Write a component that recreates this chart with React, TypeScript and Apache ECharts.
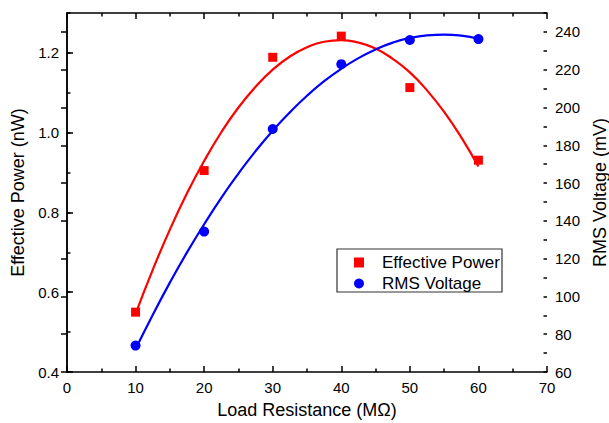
import React, { useEffect, useRef } from "react";
import * as echarts from "echarts";

const resistance = [10, 20, 30, 40, 50, 60];
const power = [0.55, 0.905, 1.189, 1.242, 1.113, 0.931];
const voltage = [74, 134.3, 188.6, 222.9, 235.7, 236.2];

const fitX = [10, 12.5, 15, 17.5, 20, 22.5, 25, 27.5, 30, 32.5, 35, 37.5, 40, 42.5, 45, 47.5, 50, 52.5, 55, 57.5, 60];
const powerFit = [0.546, 0.656, 0.757, 0.848, 0.929, 1.001, 1.063, 1.115, 1.158, 1.191, 1.214, 1.228, 1.232, 1.226, 1.211, 1.185, 1.151, 1.106, 1.052, 0.988, 0.915];
const voltageFit = [72.2, 90.2, 107.3, 123.3, 138.2, 152.2, 165.0, 176.9, 187.7, 197.4, 206.2, 213.9, 220.5, 226.1, 230.7, 234.3, 236.8, 238.2, 238.6, 238.0, 236.4];

const FONT = "Liberation Sans, Arial, sans-serif";

export default function App() {
  const ref = useRef<HTMLDivElement>(null);
  useEffect(() => {
    if (!ref.current) return;
    const chart = echarts.init(ref.current, undefined, { renderer: "svg" });
    const axisLine = { show: true, lineStyle: { color: "#000", width: 1.5 } };
    const label = { color: "#000", fontSize: 15, fontFamily: FONT };
    const nameStyle = { color: "#000", fontSize: 18, fontFamily: FONT };
    const majorTick = { show: true, inside: true, length: 6, lineStyle: { color: "#000", width: 1.5 } };
    const minorTickAxisTick = { show: true, inside: true, length: 3.5, lineStyle: { color: "#000", width: 1.5 } };
    chart.setOption({
      animation: false,
      textStyle: { fontFamily: FONT },
      grid: { left: 67, right: 62, top: 13, bottom: 51, containLabel: false, outerBoundsMode: "none" },
      legend: {
        orient: "vertical",
        left: 354,
        top: 254,
        itemWidth: 10,
        itemHeight: 10,
        itemGap: 4,
        padding: 0,
        z: 10,
        textStyle: { color: "#000", fontSize: 17, fontFamily: FONT, padding: [0, 0, 0, 13] },
        data: [
          { name: "Effective Power", icon: "rect" },
          { name: "RMS Voltage", icon: "circle" },
        ],
      },
      graphic: [
        {
          type: "rect",
          z: 1,
          shape: { x: 337, y: 249, width: 165, height: 43 },
          style: { fill: "#fff", stroke: "#333", lineWidth: 1.2 },
        },
      ],
      xAxis: [
        {
          type: "value",
          min: 0,
          max: 70,
          interval: 10,
          position: "bottom",
          axisLine,
          axisTick: majorTick,
          minorTick: { show: true, splitNumber: 2, length: 3.5, lineStyle: { color: "#000", width: 1.5 } },
          splitLine: { show: false },
          axisLabel: { ...label, margin: 8 },
          name: "Load Resistance (MΩ)",
          nameLocation: "middle",
          nameGap: 29,
          nameTextStyle: nameStyle,
        },
        {
          type: "value",
          min: 0,
          max: 70,
          interval: 10,
          position: "top",
          axisLine,
          axisTick: majorTick,
          minorTick: { show: true, splitNumber: 2, length: 3.5, lineStyle: { color: "#000", width: 1.5 } },
          splitLine: { show: false },
          axisLabel: { show: false },
        },
      ],
      yAxis: [
        {
          type: "value",
          min: 0.4,
          max: 1.3,
          interval: 0.2,
          position: "left",
          axisLine,
          axisTick: majorTick,
          splitLine: { show: false },
          axisLabel: { ...label, margin: 8, showMaxLabel: false, formatter: (v: number) => v.toFixed(1) },
          name: "Effective Power (nW)",
          nameLocation: "middle",
          nameGap: 37,
          nameTextStyle: nameStyle,
        },
        {
          type: "value",
          min: 60,
          max: 250,
          interval: 20,
          position: "right",
          axisLine,
          axisTick: majorTick,
          splitLine: { show: false },
          axisLabel: { ...label, margin: 8, showMaxLabel: false },
          name: "RMS Voltage (mV)",
          nameLocation: "middle",
          nameGap: 33,
          nameRotate: 90,
          nameTextStyle: nameStyle,
        },
        {
          type: "value",
          min: 0.4,
          max: 1.3,
          interval: 0.1,
          position: "left",
          axisLine: { show: false },
          axisTick: minorTickAxisTick,
          splitLine: { show: false },
          axisLabel: { show: false },
        },
        {
          type: "value",
          min: 60,
          max: 250,
          interval: 10,
          position: "right",
          axisLine: { show: false },
          axisTick: minorTickAxisTick,
          splitLine: { show: false },
          axisLabel: { show: false },
        },
      ],
      series: [
        {
          type: "line",
          name: "powerFit",
          xAxisIndex: 0,
          yAxisIndex: 0,
          data: fitX.map((x, i) => [x, powerFit[i]]),
          smooth: true,
          showSymbol: false,
          lineStyle: { color: "#ff0000", width: 2.2 },
          z: 2,
        },
        {
          type: "line",
          name: "voltageFit",
          xAxisIndex: 0,
          yAxisIndex: 1,
          data: fitX.map((x, i) => [x, voltageFit[i]]),
          smooth: true,
          showSymbol: false,
          lineStyle: { color: "#0000ff", width: 2.2 },
          z: 2,
        },
        {
          type: "scatter",
          name: "Effective Power",
          xAxisIndex: 0,
          yAxisIndex: 0,
          symbol: "rect",
          symbolSize: 9,
          itemStyle: { color: "#ff0000", opacity: 1 },
          data: resistance.map((x, i) => [x, power[i]]),
          z: 3,
        },
        {
          type: "scatter",
          name: "RMS Voltage",
          xAxisIndex: 0,
          yAxisIndex: 1,
          symbol: "circle",
          symbolSize: 10,
          itemStyle: { color: "#0000ff", opacity: 1 },
          data: resistance.map((x, i) => [x, voltage[i]]),
          z: 3,
        },
      ],
    });
    return () => chart.dispose();
  }, []);
  return (
    <div
      ref={ref}
      style={{ position: "fixed", left: 0, top: 0, width: 609, height: 423, background: "#fff" }}
    />
  );
}
